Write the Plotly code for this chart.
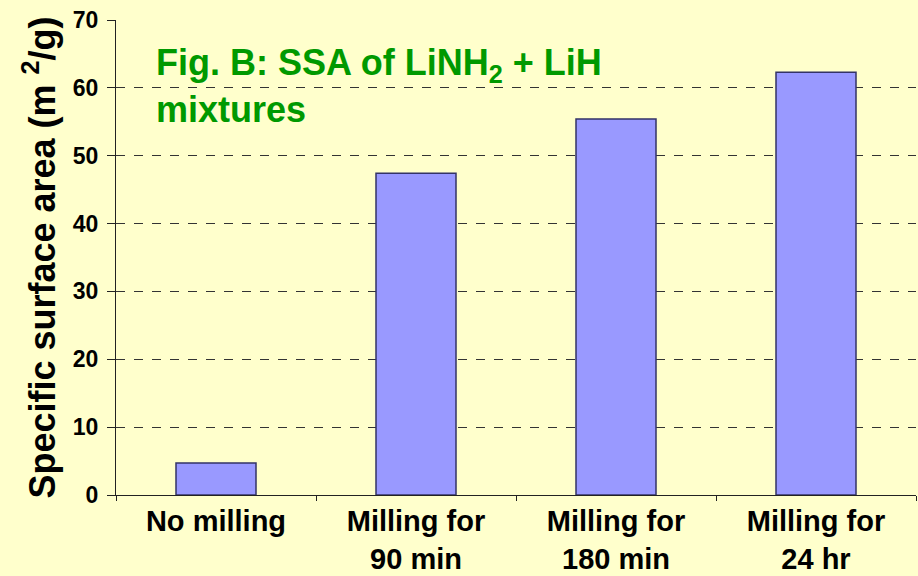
import plotly.graph_objects as go

categories = ["No milling", "Milling for<br>90 min", "Milling for<br>180 min", "Milling for<br>24 hr"]
ssa_values = [4.7, 47.4, 55.4, 62.3]
y_ticks = [0, 10, 20, 30, 40, 50, 60, 70]

FONT = "Liberation Sans, Arial, sans-serif"
BG = "#FFFFCC"

fig = go.Figure(go.Bar(
    x=categories, y=ssa_values,
    marker=dict(color="#9999FF", line=dict(color="#333366", width=1.5)),
    width=0.4,
))

fig.update_layout(
    width=918, height=576,
    paper_bgcolor=BG, plot_bgcolor=BG,
    margin=dict(l=116, r=2, t=20, b=81),
    showlegend=False,
    font=dict(family=FONT, color="black"),
)

fig.update_xaxes(
    showline=True, linecolor="#222222", linewidth=1.2,
    ticks="outside", tickson="boundaries", ticklen=5, tickcolor="#222222",
    tickfont=dict(size=29, family=FONT, color="black", weight="bold"),
    showgrid=False, automargin=False,
)
fig.update_yaxes(
    range=[0, 70], tickvals=y_ticks,
    showline=True, linecolor="#222222", linewidth=1.2,
    ticks="outside", ticklen=8, tickcolor="#222222",
    ticklabelstandoff=4,
    tickfont=dict(size=23, family=FONT, color="black", weight="bold"),
    showgrid=True, gridcolor="#333333", griddash="dash", gridwidth=1,
    zeroline=False, automargin=False,
    title=dict(text="Specific surface area (m <sup>2</sup>/g)",
               font=dict(size=36, family=FONT, color="black", weight="bold"),
               standoff=6),
)

fig.add_annotation(
    xref="paper", yref="paper", x=0.047, y=0.958, xanchor="left", yanchor="top",
    text="Fig. B: SSA of LiNH<sub>2</sub> + LiH<br>mixtures", align="left",
    showarrow=False,
    font=dict(size=36, family=FONT, color="#009900", weight="bold"),
)

fig.write_html("out.html", config={"displayModeBar": False},
               post_script="document.body.style.margin='0';")
